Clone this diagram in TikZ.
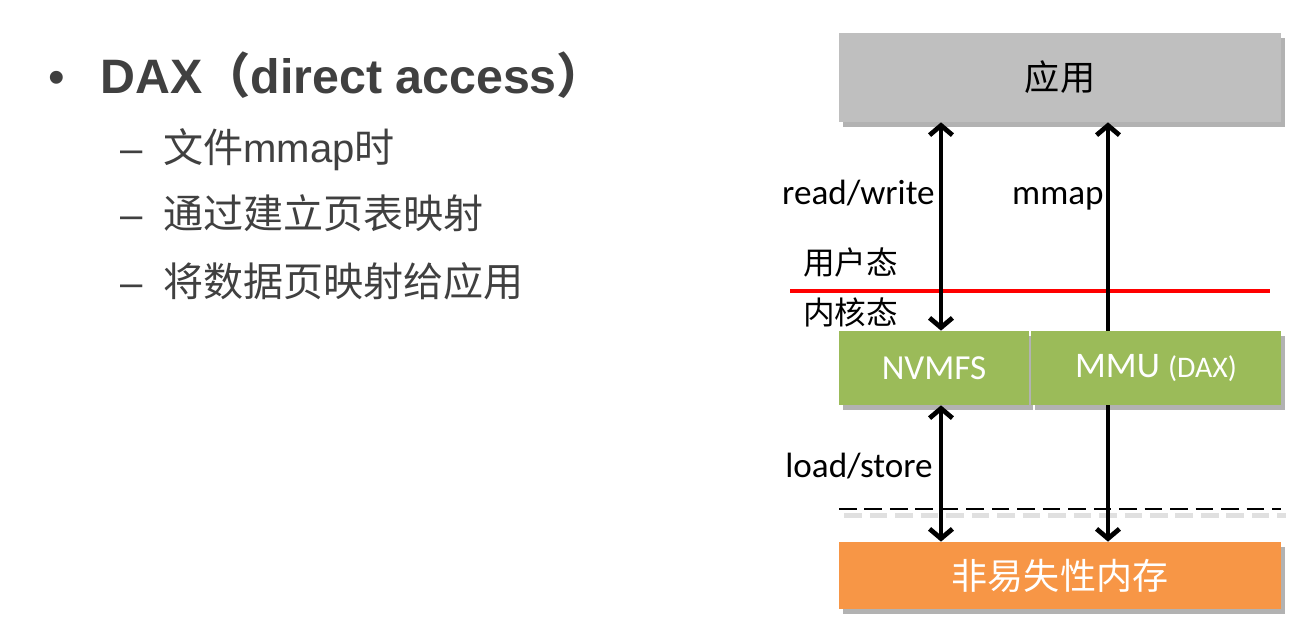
\documentclass[tikz,border=0pt]{standalone}
\usepackage{fontspec}
\setmainfont{Carlito}
\newfontfamily\cjk{Noto Sans CJK SC}
\newfontfamily\arialfont{Liberation Sans}
\usetikzlibrary{arrows.meta,shadows,positioning}
\definecolor{appgray}{HTML}{BFBFBF}
\definecolor{fsgreen}{HTML}{9BBB59}
\definecolor{memorange}{HTML}{F79646}
\definecolor{txtgray}{HTML}{404040}

\begin{document}
\begin{tikzpicture}[x=0.02cm, y=-0.02cm,
  blk/.style={rectangle, inner sep=0pt, drop shadow={shadow xshift=2.5pt, shadow yshift=-3pt, fill=black, opacity=0.3}},
  arr/.style={line width=2.7pt, >={Straight Barb[length=5.5pt,width=13pt]}},
  lbl/.style={inner sep=0pt, font=\fontsize{20}{24}\selectfont},
  cjklbl/.style={inner sep=0pt, font=\cjk\fontsize{18}{22}\selectfont},
  item/.style={inner sep=0pt, anchor=base west, text=txtgray, font=\arialfont\fontsize{22.8}{27}\selectfont}]
  \useasboundingbox (0,0) rectangle (1316,633);

  % left text
  \node[item, anchor=base, font=\arialfont\fontsize{27}{30}\selectfont] (dot) at (57,93) {•};
  \node[item, font=\arialfont\bfseries\fontsize{27.5}{32}\selectfont] (head) at (100,93) {DAX{\cjk （}direct access{\cjk ）}};
  \node[item] (d1) at (120,162) {–};
  \node[item] (s1) at (163,162) {{\cjk 文件}mmap{\cjk 时}};
  \node[item] (d2) at (120,228) {–};
  \node[item, font=\cjk\fontsize{22.8}{27}\selectfont] (s2) at (163,228) {通过建立页表映射};
  \node[item] (d3) at (120,296) {–};
  \node[item, font=\cjk\fontsize{22.8}{27}\selectfont] (s3) at (163,296) {将数据页映射给应用};

  % boxes
  \node[blk, fill=appgray, minimum width=8.84cm, minimum height=1.78cm, font=\cjk\fontsize{20}{24}\selectfont] (app) at (1060,77.5) {应用};
  \node[blk, fill=fsgreen, minimum width=3.8cm, minimum height=1.48cm, text=white, font=\fontsize{20}{24}\selectfont] (nvmfs) at (934,368) {NVMFS};
  \node[blk, fill=fsgreen, minimum width=5.0cm, minimum height=1.48cm, text=white, font=\fontsize{20.5}{24}\selectfont] (mmu) at (1156,368) {\raisebox{2pt}{MMU {\fontsize{17}{20}\selectfont (DAX)}}};
  \node[blk, fill=memorange, minimum width=8.84cm, minimum height=1.34cm, text=white, font=\cjk\fontsize{20.5}{24}\selectfont] (mem) at (1060,575.5) {非易失性内存};

  % user / kernel border and dashed line
  \coordinate (ul) at (790,291);
  \coordinate (ur) at (1270,291);
  \draw[red, line width=2pt] (ul) -- (ur);
  \coordinate (dl) at (839,509);
  \coordinate (dr) at (1281,509);
  \draw[black!12, line width=3pt, dash pattern=on 10pt off 4.5pt] ([xshift=3pt,yshift=-3.5pt]dl) -- ([xshift=3pt,yshift=-3.5pt]dr);
  \draw[line width=1.6pt, dash pattern=on 10pt off 4.5pt] (dl) -- (dr);

  % arrows
  \coordinate (rw) at (941,0);
  \coordinate (mm) at (1108,0);
  \draw[arr, <->] (app.south -| rw) -- (nvmfs.north -| rw);
  \draw[arr, ->] (mmu.north -| mm) -- (app.south -| mm);
  \draw[arr, <->] (nvmfs.south -| rw) -- (mem.north -| rw);
  \draw[arr, ->] (mmu.south -| mm) -- (mem.north -| mm);

  % labels
  \node[lbl, anchor=base east] (rwl) at (935,204) {read/write};
  \node[lbl, anchor=base east] (mml) at (1104,204) {mmap};
  \node[cjklbl, anchor=base west] (user) at (803,274) {用户态};
  \node[cjklbl, anchor=base west] (kern) at (803,324) {内核态};
  \node[lbl, anchor=base west] (ls) at (785,477) {load/store};
\end{tikzpicture}
\end{document}
